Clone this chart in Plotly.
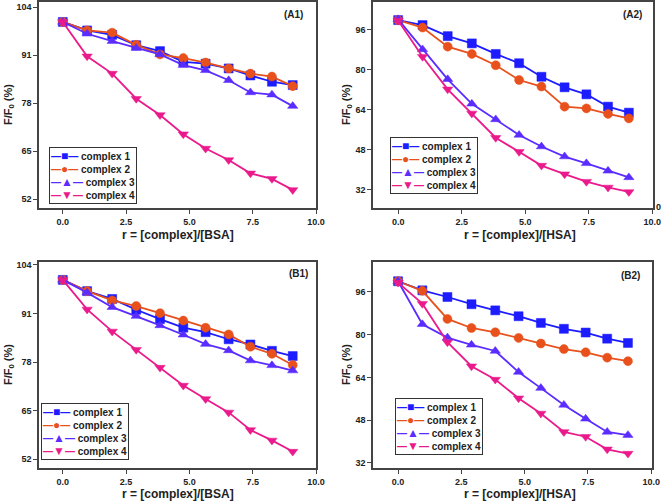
import plotly.graph_objects as go

W, H = 662, 502

r_vals = [0, 0.96, 1.95, 2.9, 3.84, 4.76, 5.64, 6.55, 7.41, 8.26, 9.08]
names = ["complex 1", "complex 2", "complex 3", "complex 4"]

# Panel A1 (BSA)
a1_c1 = [100, 97.7, 96.5, 93.7, 92.1, 89.2, 88.7, 87.4, 85.5, 83.8, 82.9]
a1_c2 = [100, 97.7, 97.1, 93.8, 91.2, 90.2, 89.0, 87.4, 86.0, 85.2, 82.6]
a1_c3 = [100, 96.8, 94.8, 92.9, 91.2, 88.3, 86.9, 84.2, 80.9, 80.3, 77.2]
a1_c4 = [100, 90.7, 86.0, 79.2, 74.8, 69.6, 65.7, 62.6, 59.0, 57.5, 54.5]
# Panel A2 (HSA)
a2_c1 = [99.7, 97.7, 93.3, 90.4, 86.2, 82.5, 77.1, 72.9, 70.1, 65.2, 62.8]
a2_c2 = [99.7, 96.7, 89.1, 86.2, 81.7, 75.8, 73.2, 65.2, 64.5, 62.3, 60.5]
a2_c3 = [100, 88.0, 76.1, 66.3, 60.1, 53.9, 49.3, 45.3, 42.6, 39.6, 37.0]
a2_c4 = [99.5, 85.1, 72.1, 62.5, 52.8, 47.2, 41.7, 38.3, 35.3, 33.0, 31.2]
# Panel B1 (BSA)
b1_c1 = [100, 97.0, 94.9, 92.0, 89.5, 87.2, 86.0, 84.1, 82.7, 81.0, 79.6]
b1_c2 = [100, 97.0, 94.5, 93.0, 91.1, 89.1, 87.2, 85.4, 82.1, 80.2, 77.2]
b1_c3 = [100, 96.6, 92.7, 90.3, 87.8, 85.3, 82.8, 81.1, 78.4, 77.1, 75.7]
b1_c4 = [100, 92.1, 86.2, 81.3, 76.5, 71.7, 68.1, 64.5, 59.8, 57.0, 54.0]
# Panel B2 (HSA)
b2_c1 = [100, 96.6, 94.1, 91.4, 89.1, 86.9, 84.4, 82.2, 80.8, 78.5, 76.9]
b2_c2 = [100, 96.4, 85.9, 82.5, 80.9, 78.8, 76.7, 74.6, 73.4, 71.4, 70.1]
b2_c3 = [100, 83.9, 78.9, 76.2, 73.9, 66.0, 60.0, 53.7, 48.5, 43.6, 42.4]
b2_c4 = [99.5, 91.6, 77.2, 68.2, 63.2, 56.2, 50.5, 43.6, 41.8, 37.1, 35.5]

a1_ticks = [52, 65, 78, 91, 104]
a2_ticks = [32, 48, 64, 80, 96]
x_ticks = [0, 2.5, 5.0, 7.5, 10.0]

colors = ["#1c1cff", "#e8501c", "#5a2cff", "#ea1a8c"]
symbols = ["square", "circle", "triangle-up", "triangle-down"]
glyphs = ["\u25a0", "\u25cf", "\u25b2", "\u25bc"]

panels = [
    dict(data=[a1_c1, a1_c2, a1_c3, a1_c4], label="(A1)", xt="r = [complex]/[BSA]",
         xd=[39, 316], yd=[2, 208], yr=[49.6, 105.4], xr=[-0.94, 10.0], yt=a1_ticks,
         leg=(49, 147), lab=(293, 15), xtp=(178, 235), ytp=(9, 105)),
    dict(data=[a2_c1, a2_c2, a2_c3, a2_c4], label="(A2)", xt="r = [complex]/[HSA]",
         xd=[373, 653], yd=[2, 208], yr=[24.8, 106.9], xr=[-0.99, 10.03], yt=a2_ticks,
         leg=(390, 137), lab=(632, 15), xtp=(520, 235), ytp=(347, 105)),
    dict(data=[b1_c1, b1_c2, b1_c3, b1_c4], label="(B1)", xt="r = [complex]/[BSA]",
         xd=[39, 316], yd=[262, 468], yr=[49.6, 104.8], xr=[-0.94, 10.0], yt=a1_ticks,
         leg=(41, 403), lab=(298, 273), xtp=(178, 494), ytp=(9, 365)),
    dict(data=[b2_c1, b2_c2, b2_c3, b2_c4], label="(B2)", xt="r = [complex]/[HSA]",
         xd=[373, 652], yd=[262, 468], yr=[30.1, 107.2], xr=[-0.99, 10.03], yt=a2_ticks,
         leg=(395, 398), lab=(630, 275), xtp=(520, 494), ytp=(347, 365)),
]

fig = go.Figure()
layout = dict(width=W, height=H, margin=dict(l=0, r=0, t=0, b=0),
              paper_bgcolor="white", plot_bgcolor="white", annotations=[],
              showlegend=False)

font_b = "Liberation Sans"
axc = "#444444"
txt = "#222222"

legend_text = "<br>".join(
    "<span style='color:%s'>\u2014<span style='font-size:12px'>%s</span>\u2014</span> %s"
    % (colors[j], glyphs[j], names[j])
    for j in range(4))


def centered(px, py, text, size, **kw):
    d = dict(x=px / W, y=(H - py) / H, xref="paper", yref="paper",
             xanchor="center", yanchor="middle", text=text, showarrow=False,
             font=dict(family=font_b, size=size, color=txt))
    d.update(kw)
    return d


for i, p in enumerate(panels):
    k = "" if i == 0 else str(i + 1)
    for j in range(4):
        fig.add_trace(go.Scatter(
            x=r_vals, y=p["data"][j], name=names[j], mode="lines+markers",
            line=dict(color=colors[j], width=1.8),
            marker=dict(symbol=symbols[j], size=9, color=colors[j],
                        line=dict(color=colors[j], width=0.5)),
            xaxis="x" + k, yaxis="y" + k, showlegend=False))
    layout["xaxis" + k] = dict(
        domain=[p["xd"][0] / W, p["xd"][1] / W], anchor="y" + k, range=p["xr"],
        tickvals=x_ticks, tickformat=".1f", ticks="outside", ticklen=4, tickwidth=1,
        tickcolor=axc, showline=True, linecolor=axc, linewidth=1.5, mirror=True,
        showgrid=False, zeroline=False, automargin=False,
        tickfont=dict(family=font_b, size=9, color=txt, weight="bold"))
    layout["yaxis" + k] = dict(
        domain=[(H - p["yd"][1]) / H, (H - p["yd"][0]) / H], anchor="x" + k, range=p["yr"],
        tickvals=p["yt"], ticks="outside", ticklen=4, tickwidth=1,
        tickcolor=axc, showline=True, linecolor=axc, linewidth=1.5, mirror=True,
        showgrid=False, zeroline=False, automargin=False,
        tickfont=dict(family=font_b, size=9, color=txt, weight="bold"))
    ann = layout["annotations"]
    ann.append(centered(p["lab"][0], p["lab"][1], "<b>" + p["label"] + "</b>", 10))
    ann.append(centered(p["xtp"][0], p["xtp"][1], "<b>" + p["xt"] + "</b>", 12))
    ann.append(centered(p["ytp"][0], p["ytp"][1], "<b>F/F<sub>0</sub> (%)</b>", 11,
                        textangle=-90))
    ann.append(dict(
        x=p["leg"][0] / W, y=(H - p["leg"][1]) / H, xref="paper", yref="paper",
        xanchor="left", yanchor="top", align="left", text="<b>" + legend_text + "</b>",
        showarrow=False, bgcolor="white", bordercolor="#333", borderwidth=1, borderpad=1,
        font=dict(family=font_b, size=10, color=txt)))

layout["annotations"].append(centered(658, 207, "<b>0</b>", 9))

fig.update_layout(**layout)
fig.write_html("out.html", config={"displayModeBar": False},
               post_script="document.body.style.margin='0';")
